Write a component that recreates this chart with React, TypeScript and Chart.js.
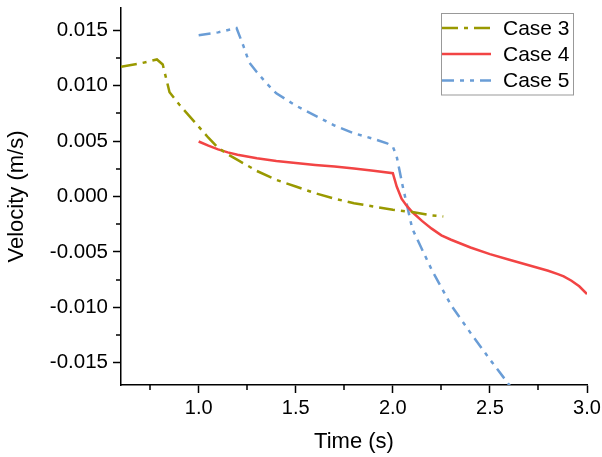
import React, { useEffect, useRef } from "react";
import { Chart, registerables } from "chart.js";

Chart.register(...registerables);

// ---- Data ----
const case3Time = [0.6, 0.7, 0.785, 0.815, 0.85, 0.9, 0.95, 1.0, 1.05, 1.1, 1.15, 1.2, 1.3, 1.4, 1.5, 1.6, 1.7, 1.8, 1.9, 2.0, 2.1, 2.2, 2.26];
const case3Vel = [0.0117, 0.0120, 0.01236, 0.0119, 0.0094, 0.0083, 0.0073, 0.0063, 0.0053, 0.0044, 0.0038, 0.0033, 0.0023, 0.0015, 0.0009, 0.0003, -0.0002, -0.0006, -0.0009, -0.0012, -0.0014, -0.0017, -0.0018];

const case4Time = [1.0, 1.05, 1.1, 1.15, 1.2, 1.3, 1.4, 1.5, 1.6, 1.7, 1.8, 1.9, 2.0, 2.02, 2.045, 2.07, 2.1, 2.15, 2.2, 2.25, 2.3, 2.4, 2.5, 2.6, 2.7, 2.8, 2.85, 2.88, 2.92, 2.96, 3.0];
const case4Vel = [0.00496, 0.00458, 0.00425, 0.00398, 0.00376, 0.00345, 0.0032, 0.00302, 0.00285, 0.0027, 0.00252, 0.00232, 0.0021, 0.0009, -0.0002, -0.0008, -0.0014, -0.0022, -0.0029, -0.0035, -0.0039, -0.0046, -0.0052, -0.0057, -0.0062, -0.0067, -0.0070, -0.0072, -0.0076, -0.0081, -0.0088];

const case5Time = [1.0, 1.1, 1.195, 1.23, 1.26, 1.3, 1.35, 1.4, 1.5, 1.6, 1.7, 1.8, 1.9, 1.97, 2.0, 2.02, 2.05, 2.1, 2.2, 2.3, 2.4, 2.5, 2.6, 2.65];
const case5Vel = [0.01455, 0.0148, 0.0152, 0.0136, 0.0121, 0.0112, 0.0102, 0.0093, 0.0082, 0.0073, 0.0064, 0.0057, 0.0052, 0.0048, 0.0045, 0.0036, 0.0010, -0.0029, -0.0066, -0.0098, -0.0123, -0.0147, -0.0170, -0.0182];

const seriesNames = ["Case 3", "Case 4", "Case 5"];
const xMajorTicks = [1.0, 1.5, 2.0, 2.5, 3.0];
const xMinorTicks = [0.75, 1.25, 1.75, 2.25, 2.75];
const yMajorTicks = [-0.015, -0.01, -0.005, 0, 0.005, 0.01, 0.015];
const yMinorTicks = [-0.0125, -0.0075, -0.0025, 0.0025, 0.0075, 0.0125];

const FONT = 'Arial, "Liberation Sans", sans-serif';
const colors = ["#999900", "#F24444", "#6A9DD6"];
const dashes = [[16, 6, 4, 6], [], [12, 6, 4, 6, 4, 6]];

const toPoints = (xs: number[], ys: number[]) => xs.map((x, i) => ({ x, y: ys[i] }));

const minorTickPlugin = {
  id: "minorTicks",
  afterDraw(chart: any) {
    const ctx = chart.ctx;
    const xs = chart.scales.x;
    const ys = chart.scales.y;
    const area = chart.chartArea;
    ctx.save();
    ctx.strokeStyle = "#000";
    ctx.lineWidth = 1.5;
    ctx.beginPath();
    xMinorTicks.forEach((v) => {
      const px = Math.round(xs.getPixelForValue(v));
      ctx.moveTo(px, area.bottom);
      ctx.lineTo(px, area.bottom + 5);
    });
    yMinorTicks.forEach((v) => {
      const py = Math.round(ys.getPixelForValue(v));
      ctx.moveTo(area.left, py);
      ctx.lineTo(area.left - 5, py);
    });
    ctx.stroke();
    ctx.restore();
  },
};

const legendPlugin = {
  id: "customLegend",
  afterDraw(chart: any) {
    const ctx = chart.ctx;
    const left = 441, top = 13.5, right = 573, bottom = 95;
    ctx.save();
    ctx.fillStyle = "#fff";
    ctx.fillRect(left, top, right - left, bottom - top);
    ctx.strokeStyle = "#999";
    ctx.lineWidth = 1;
    ctx.strokeRect(left + 0.5, top, right - left, bottom - top);
    const rows = [28, 54, 80.5];
    chart.data.datasets.forEach((ds: any, i: number) => {
      ctx.beginPath();
      ctx.setLineDash(ds.borderDash || []);
      ctx.strokeStyle = ds.borderColor;
      ctx.lineWidth = ds.borderWidth;
      ctx.moveTo(442, rows[i]);
      ctx.lineTo(491, rows[i]);
      ctx.stroke();
      ctx.setLineDash([]);
      ctx.fillStyle = "#000";
      ctx.font = `21px ${FONT}`;
      ctx.textBaseline = "middle";
      ctx.textAlign = "left";
      ctx.fillText(ds.label, 503, rows[i] + 1);
    });
    ctx.restore();
  },
};

export default function App() {
  const ref = useRef<HTMLCanvasElement>(null);

  useEffect(() => {
    if (!ref.current) return;
    const seriesX = [case3Time, case4Time, case5Time];
    const seriesY = [case3Vel, case4Vel, case5Vel];
    const chart = new Chart(ref.current, {
      type: "scatter",
      data: {
        datasets: seriesNames.map((name, i) => ({
          label: name,
          data: toPoints(seriesX[i], seriesY[i]),
          showLine: true,
          borderColor: colors[i],
          backgroundColor: colors[i],
          borderWidth: 2.5,
          borderDash: dashes[i],
          pointRadius: 0,
          tension: 0,
          fill: false,
        })),
      },
      options: {
        responsive: false,
        animation: false,
        devicePixelRatio: 1,
        layout: { padding: { top: 8, right: 15, left: 0, bottom: 0 } },
        plugins: {
          legend: { display: false },
          tooltip: { enabled: false },
        },
        scales: {
          x: {
            type: "linear",
            min: 0.6,
            max: 3.0,
            afterBuildTicks: (scale: any) => {
              scale.ticks = xMajorTicks.map((v) => ({ value: v }));
            },
            afterFit: (scale: any) => {
              scale.height = 72;
              scale.paddingLeft = 0;
              scale.paddingRight = 0;
            },
            grid: {
              drawOnChartArea: false,
              drawTicks: true,
              tickLength: 8,
              tickColor: "#000",
              tickWidth: 1.5,
            },
            border: { display: true, color: "#000", width: 1.5 },
            ticks: {
              color: "#000",
              font: { family: FONT, size: 20 },
              padding: 3,
              maxRotation: 0,
              callback: (v: any) => Number(v).toFixed(1),
            },
            title: {
              display: true,
              text: "Time (s)",
              color: "#000",
              font: { family: FONT, size: 22 },
              padding: { top: 2, bottom: 2 },
            },
          },
          y: {
            type: "linear",
            min: -0.017,
            max: 0.017,
            afterBuildTicks: (scale: any) => {
              scale.ticks = yMajorTicks.map((v) => ({ value: v }));
            },
            afterFit: (scale: any) => {
              scale.width = 121;
              scale.paddingTop = 0;
              scale.paddingBottom = 0;
            },
            grid: {
              drawOnChartArea: false,
              drawTicks: true,
              tickLength: 8,
              tickColor: "#000",
              tickWidth: 1.5,
            },
            border: { display: true, color: "#000", width: 1.5 },
            ticks: {
              color: "#000",
              font: { family: FONT, size: 20.5 },
              padding: 5,
              callback: (v: any) => Number(v).toFixed(3),
            },
            title: {
              display: true,
              text: "Velocity (m/s)",
              color: "#000",
              font: { family: FONT, size: 22 },
              padding: { top: 4, bottom: 2 },
            },
          },
        },
      },
      plugins: [minorTickPlugin, legendPlugin],
    });
    return () => chart.destroy();
  }, []);

  return (
    <div style={{ position: "fixed", left: 0, top: 0, width: 602, height: 457, background: "#fff" }}>
      <canvas ref={ref} width={602} height={457} style={{ display: "block", width: 602, height: 457 }} />
    </div>
  );
}
